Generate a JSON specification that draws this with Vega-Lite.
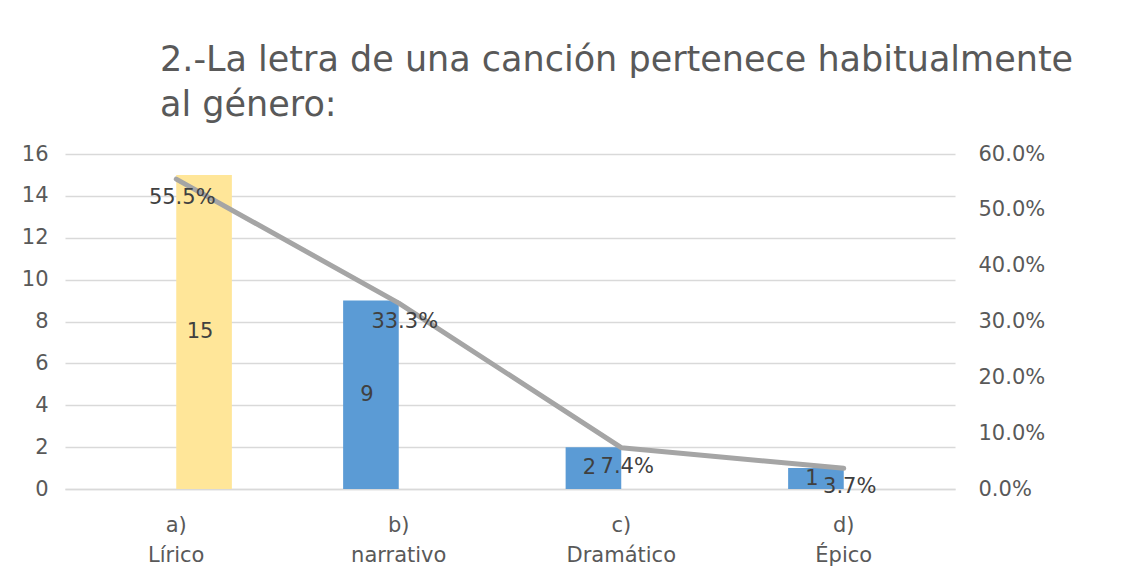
{
  "$schema": "https://vega.github.io/schema/vega-lite/v6.json",
  "autosize": "none",
  "width": 890,
  "height": 335,
  "padding": {"left": 65, "top": 154, "right": 178, "bottom": 80},
  "background": "white",
  "config": {"font": "DejaVu Sans", "view": {"stroke": null}},
  "title": {
    "text": ["2.-La letra de una canción pertenece habitualmente", "al género:"],
    "anchor": "start",
    "frame": "group",
    "dx": 95,
    "font": "DejaVu Sans",
    "fontSize": 35,
    "fontWeight": "normal",
    "color": "#595959",
    "offset": 20,
    "lineHeight": 45
  },
  "data": {
    "values": [
      {"categoria": "a) Lírico", "serie": "Serie 2", "cantidad": 15, "porcentaje": 0.555},
      {"categoria": "b) narrativo", "serie": "Serie 1", "cantidad": 9, "porcentaje": 0.333},
      {"categoria": "c) Dramático", "serie": "Serie 1", "cantidad": 2, "porcentaje": 0.074},
      {"categoria": "d) Épico", "serie": "Serie 1", "cantidad": 1, "porcentaje": 0.037}
    ]
  },
  "encoding": {
    "x": {
      "field": "categoria",
      "type": "nominal",
      "sort": null,
      "scale": {"paddingInner": 0, "paddingOuter": 0},
      "axis": {
        "title": null,
        "labelAngle": 0,
        "labelExpr": "split(datum.label, ' ')",
        "labelFontSize": 21,
        "labelColor": "#595959",
        "labelPadding": 25,
        "labelLineHeight": 30,
        "ticks": false,
        "domainColor": "#D9D9D9",
        "domainWidth": 1.5
      }
    }
  },
  "layer": [
    {
      "encoding": {
        "y": {
          "field": "cantidad",
          "type": "quantitative",
          "scale": {"domain": [0, 16], "nice": false},
          "axis": {
            "title": null,
            "values": [0, 2, 4, 6, 8, 10, 12, 14, 16],
            "grid": true,
            "gridColor": "#D9D9D9",
            "gridWidth": 1.5,
            "domain": false,
            "ticks": false,
            "labelFontSize": 21,
            "labelColor": "#595959",
            "labelPadding": 17
          }
        },
        "xOffset": {
          "field": "serie",
          "type": "nominal",
          "scale": {"domain": ["Serie 1", "Serie 2"], "paddingInner": 0, "paddingOuter": 1.06}
        }
      },
      "layer": [
        {
          "mark": {"type": "bar"},
          "encoding": {
            "color": {
              "field": "serie",
              "type": "nominal",
              "scale": {"domain": ["Serie 1", "Serie 2"], "range": ["#5B9BD5", "#FFE699"]},
              "legend": null
            }
          }
        },
        {
          "transform": [{"calculate": "datum.cantidad / 2", "as": "mitad"}],
          "mark": {"type": "text", "fontSize": 21, "color": "#404040", "baseline": "middle", "dx": -4},
          "encoding": {
            "y": {"field": "mitad", "type": "quantitative"},
            "text": {"field": "cantidad", "type": "quantitative"}
          }
        }
      ]
    },
    {
      "encoding": {
        "y": {
          "field": "porcentaje",
          "type": "quantitative",
          "scale": {"domain": [0, 0.6], "nice": false},
          "axis": {
            "orient": "right",
            "title": null,
            "values": [0, 0.1, 0.2, 0.3, 0.4, 0.5, 0.6],
            "format": ".1%",
            "grid": false,
            "domain": false,
            "ticks": false,
            "labelFontSize": 21,
            "labelColor": "#595959",
            "labelPadding": 23
          }
        }
      },
      "layer": [
        {
          "mark": {"type": "line", "color": "#A5A5A5", "strokeWidth": 5, "strokeCap": "round", "strokeJoin": "round"}
        },
        {
          "mark": {"type": "text", "fontSize": 21, "color": "#404040", "baseline": "top", "dy": 8, "dx": 6},
          "encoding": {
            "text": {"field": "porcentaje", "type": "quantitative", "format": ".1%"}
          }
        }
      ]
    }
  ],
  "resolve": {"scale": {"y": "independent"}}
}
